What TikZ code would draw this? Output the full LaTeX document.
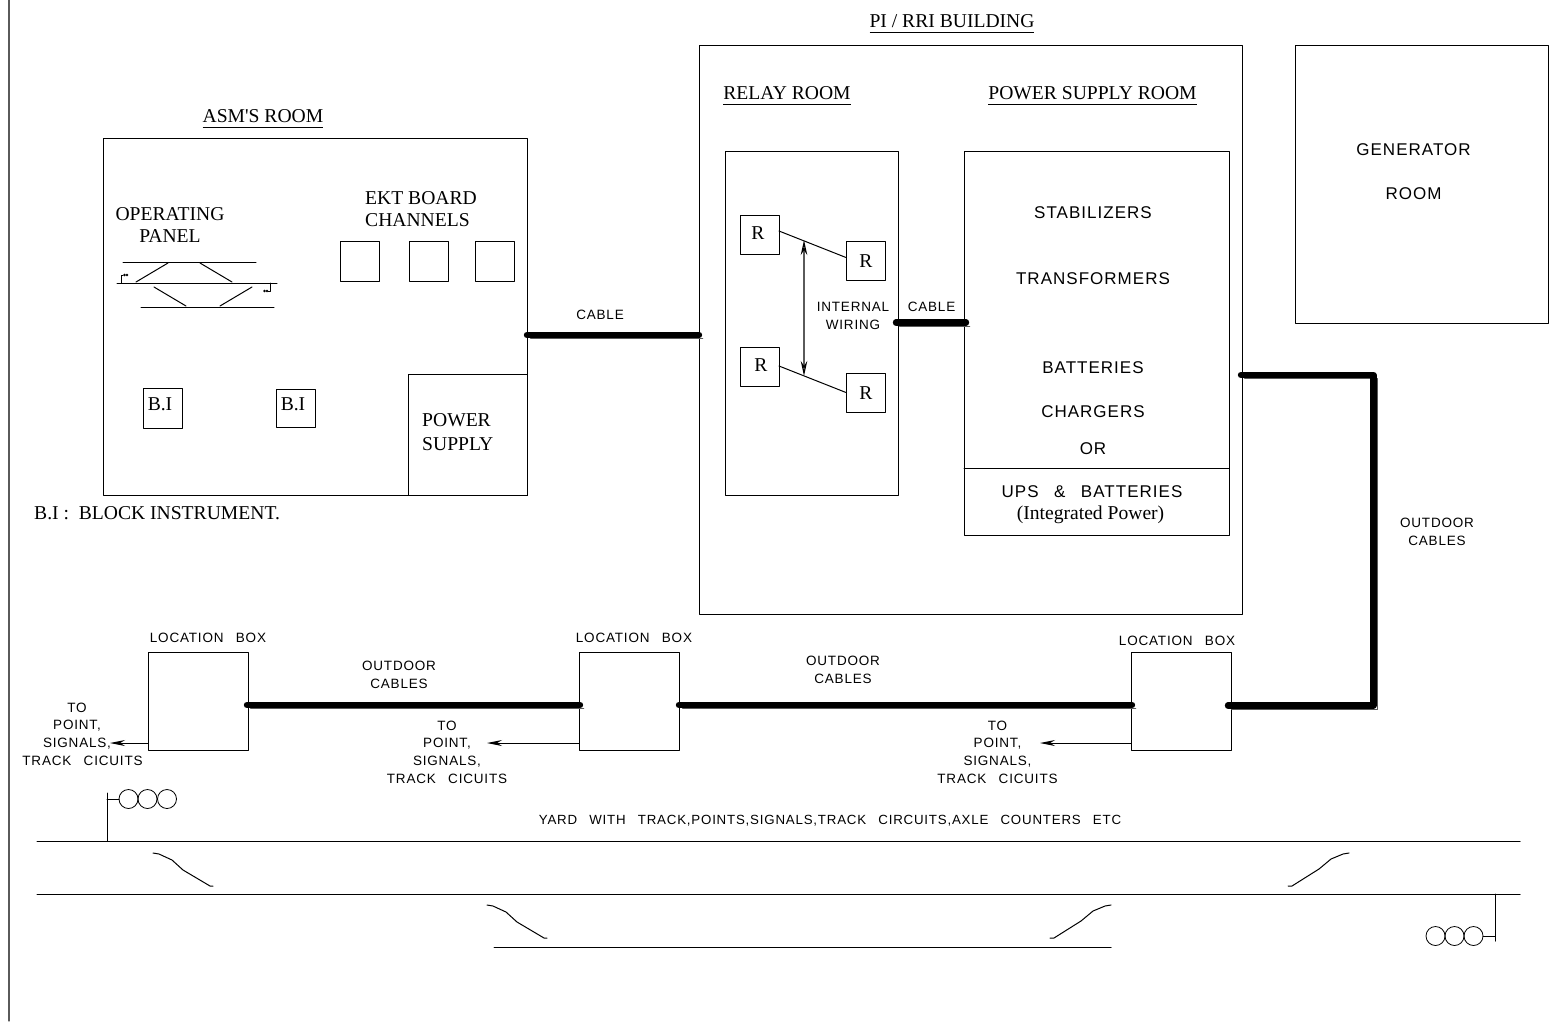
\documentclass[tikz,border=0pt]{standalone}
\usepackage{fontspec}
\setmainfont{Liberation Serif}
\newfontfamily\cadfont[LetterSpace=6, WordSpace=2.7]{Liberation Sans}
\usetikzlibrary{arrows.meta}
\definecolor{cgray}{HTML}{5a5a5a}
\newsavebox{\namebox}
\newcommand{\roomname}[1]{\sbox{\namebox}{#1}\smash{\rlap{\rule[-5.5pt]{\wd\namebox}{1pt}}}\usebox{\namebox}}
\tikzset{
  rbox/.style={draw, line width=1pt, inner sep=0pt, outer sep=0pt},
  rlabel/.style={inner sep=0pt, align=center, yshift=-0.7pt, font=\fontsize{19.6}{22}\selectfont},
  cadsmall/.style={inner sep=0pt, align=center, yshift=-1pt, font=\cadfont\fontsize{13.5}{17.7}\selectfont},
  cadbig/.style={inner sep=0pt, align=center, yshift=-1pt, font=\cadfont\fontsize{17}{20}\selectfont},
  cable/.style={line width=6.4pt, line cap=round, line join=round,
    preaction={draw, line width=1.1pt, cgray, transform canvas={xshift=3.7pt, yshift=-3.7pt}}},
  wire/.style={line width=1pt},
  feed/.style={line width=1pt, -{Stealth[length=15pt, width=6pt]}},
  lamp/.style={draw, circle, line width=0.8pt, minimum size=19pt, inner sep=0pt, outer sep=0pt},
}
\begin{document}
\begin{tikzpicture}[x=1pt, y=-1pt, line cap=round, line join=round]
  \useasboundingbox (0,0) rectangle (1566,1021);
  \draw[cgray, line width=1.2pt] (9,0) -- (9,1021);

  % ---------- ASM's room ----------
  \node[rbox, minimum width=424pt, minimum height=357pt] (asm) at (315,316.5) {};
  \node[rbox, minimum width=119pt, minimum height=121pt] (supply) at (467.5,434.5) {};
  \node[rlabel] (asmname) at (263,115) {\roomname{ASM\textquotesingle S ROOM}};
  \node[rlabel] (panelname) at (170,224.5) {OPERATING\\PANEL};
  \node[rlabel, align=left, anchor=west] (ektname) at (365,208.5) {EKT BOARD\\CHANNELS};
  \node[rlabel, align=left, anchor=west, font=\fontsize{19.6}{24}\selectfont] (supplyname) at (422,431) {POWER\\SUPPLY};
  \foreach \n/\x in {ekta/360,ektb/428.5,ektc/494.5}
    \node[rbox, minimum width=39pt, minimum height=40pt] (\n) at (\x,261) {};
  \node[rbox, minimum width=39pt, minimum height=40pt] (bia) at (162.5,408) {};
  \node[rbox, minimum width=39pt, minimum height=38pt] (bib) at (295.5,408) {};
  \node[rlabel] (bianame) at (160,404) {B.I};
  \node[rlabel] (bibname) at (293,404) {B.I};
  \node[rlabel, anchor=west] (binote) at (34,512) {B.I :\ \ BLOCK INSTRUMENT.};

  % panel track layout
  \draw[wire] (123,262) -- (256,262);
  \draw[wire] (117,283) -- (277,283);
  \draw[wire] (141,307) -- (274,307);
  \draw[wire] (136,282) -- (168,263);
  \draw[wire] (200,263) -- (232,282);
  \draw[wire] (154,287) -- (186,306);
  \draw[wire] (220,306) -- (252,287);
  \draw[wire] (121,283) -- (121,275) -- (123,275);
  \draw[wire] (270,283) -- (270,291) -- (268,291);
  \fill (124.5,275) circle (1.3pt) (127,275) circle (1.3pt);
  \fill (267,291) circle (1.3pt) (264.5,291) circle (1.3pt);

  % ---------- PI / RRI building ----------
  \node[rbox, minimum width=543pt, minimum height=569pt] (rri) at (970.5,329.5) {};
  \node[rlabel] (rriname) at (952,20) {\roomname{PI / RRI BUILDING}};
  \node[rlabel] (relayname) at (787,92) {\roomname{RELAY ROOM}};
  \node[rlabel] (powername) at (1092.5,92) {\roomname{POWER SUPPLY ROOM}};
  \node[rbox, minimum width=173pt, minimum height=344pt] (relay) at (811.5,323) {};
  \node[rbox, minimum width=265pt, minimum height=384pt] (power) at (1096.5,343) {};
  \draw[wire] (964,468) -- (1229,468);
  \foreach \n/\x/\y/\lx/\ly in {ra/759.5/234.5/758/232,rb/865.5/261/866/260,rc/759.5/366.5/761/364,rd/865.5/393/866/392}{
    \node[rbox, minimum width=39pt, minimum height=39pt] (\n) at (\x,\y) {};
    \node[rlabel] (\n name) at (\lx,\ly) {R};
  }
  \draw[wire] ([yshift=3.5pt]ra.east) -- ([yshift=3.5pt]rb.west);
  \draw[wire] ([yshift=0.5pt]rc.east) -- ([yshift=0.5pt]rd.west);
  \coordinate (wirea) at (804,240);
  \coordinate (wireb) at (804,376);
  \draw[cgray, line width=1.2pt, {Stealth[black, length=15pt, width=6.5pt, open]}-{Stealth[black, length=15pt, width=6.5pt, open]}] (wirea) -- (wireb);
  \node[cadsmall] (wiring) at (853,315) {INTERNAL\\WIRING};
  \node[cadsmall] (cablename) at (931.5,306) {CABLE};
  \node[cadbig] (stab) at (1093,212) {STABILIZERS};
  \node[cadbig] (trans) at (1093,278) {TRANSFORMERS};
  \node[cadbig] (batt) at (1093,367) {BATTERIES};
  \node[cadbig] (charg) at (1093,411) {CHARGERS};
  \node[cadbig] (orname) at (1093,448) {OR};
  \node[cadbig] (ups) at (1092,491) {UPS \& BATTERIES};
  \node[rlabel] (integ) at (1090.5,514) {(Integrated Power)};

  % ---------- generator room ----------
  \node[rbox, minimum width=253pt, minimum height=278pt] (gen) at (1421.5,184) {};
  \node[cadbig] (genname) at (1413.5,149) {GENERATOR};
  \node[cadbig] (genroom) at (1413.5,193) {ROOM};

  % ---------- location boxes ----------
  \foreach \n/\x/\lx/\ly in {loca/198/208/637,locb/629/634/637,locc/1181/1177/640}{
    \node[rbox, minimum width=100pt, minimum height=98pt] (\n) at (\x,701) {};
    \node[cadsmall] (\n name) at (\lx,\ly) {LOCATION BOX};
  }
  \coordinate (feeda) at (110,743);
  \coordinate (feedb) at (487,743);
  \coordinate (feedc) at (1040,743);
  \draw[feed] (loca.west |- feeda) -- (feeda);
  \draw[feed] (locb.west |- feedb) -- (feedb);
  \draw[feed] (locc.west |- feedc) -- (feedc);
  \node[cadsmall] (toa) at (77,733) {TO\\POINT,\\SIGNALS,\\\hspace*{11pt}TRACK CICUITS};
  \node[cadsmall] (tob) at (447,751) {TO\\POINT,\\SIGNALS,\\TRACK CICUITS};
  \node[cadsmall] (toc) at (997.5,751) {TO\\POINT,\\SIGNALS,\\TRACK CICUITS};

  % ---------- cables ----------
  \coordinate (cablea) at (asm.east |- 0,335);
  \coordinate (cableb) at (rri.west |- 0,335);
  \coordinate (cablec) at (896,322.5);
  \coordinate (cabled) at (966,322.5);
  \coordinate (cablee) at (1241,375);
  \coordinate (cablef) at (1373.5,375);
  \coordinate (cableg) at (1373.5,705.5);
  \coordinate (cableh) at (1228,705.5);
  \coordinate (cablei) at (247,705);
  \coordinate (cablej) at (580,705);
  \coordinate (cablek) at (679,705);
  \coordinate (cablel) at (1132,705);
  \draw[cable] (cablea) -- (cableb);
  \draw[cable] (cablec) -- (cabled);
  \draw[cable] (cablee) -- (cablef) -- (cableg) -- (cableh);
  \draw[cable] (cablei) -- (cablej);
  \draw[cable] (cablek) -- (cablel);
  \node[cadsmall] (cablemain) at (600,314) {CABLE};
  \node[cadsmall] (outa) at (1437,531) {OUTDOOR\\CABLES};
  \node[cadsmall] (outb) at (399,674) {OUTDOOR\\CABLES};
  \node[cadsmall] (outc) at (843,669) {OUTDOOR\\CABLES};

  % ---------- yard ----------
  \node[cadsmall, font=\cadfont\fontsize{13.3}{17.7}\selectfont] (yard) at (830,820) {YARD WITH TRACK,POINTS,SIGNALS,TRACK CIRCUITS,AXLE COUNTERS ETC};
  \draw[wire] (37,841) -- (1520,841);
  \draw[wire] (37,894) -- (1520,894);
  \draw[wire] (494,947) -- (1111,947);
  \foreach \dx/\dy in {0/0,334/52}
    \draw[wire, shift={(\dx,\dy)}] (153,853) -- (159,854) -- (172,860) -- (183,870) -- (210,886) -- (213,886);
  \foreach \dx/\dy in {0/0,-238/52}
    \draw[wire, shift={(\dx,\dy)}] (1288,886) -- (1292,886) -- (1319,869) -- (1331,859) -- (1343,854) -- (1349,853);

  % signals
  \foreach \n/\x in {lampa/128.5,lampb/147.5,lampc/167}
    \node[lamp] (\n) at (\x,799) {};
  \draw[wire] (107,793) -- (107,841);
  \draw[wire] (107,799) -- (lampa);
  \foreach \n/\x in {lampd/1435.5,lampe/1454.5,lampf/1473.5}
    \node[lamp] (\n) at (\x,936) {};
  \draw[wire] (1495,894) -- (1495,941);
  \draw[wire] (1495,936) -- (lampf);
\end{tikzpicture}
\end{document}
